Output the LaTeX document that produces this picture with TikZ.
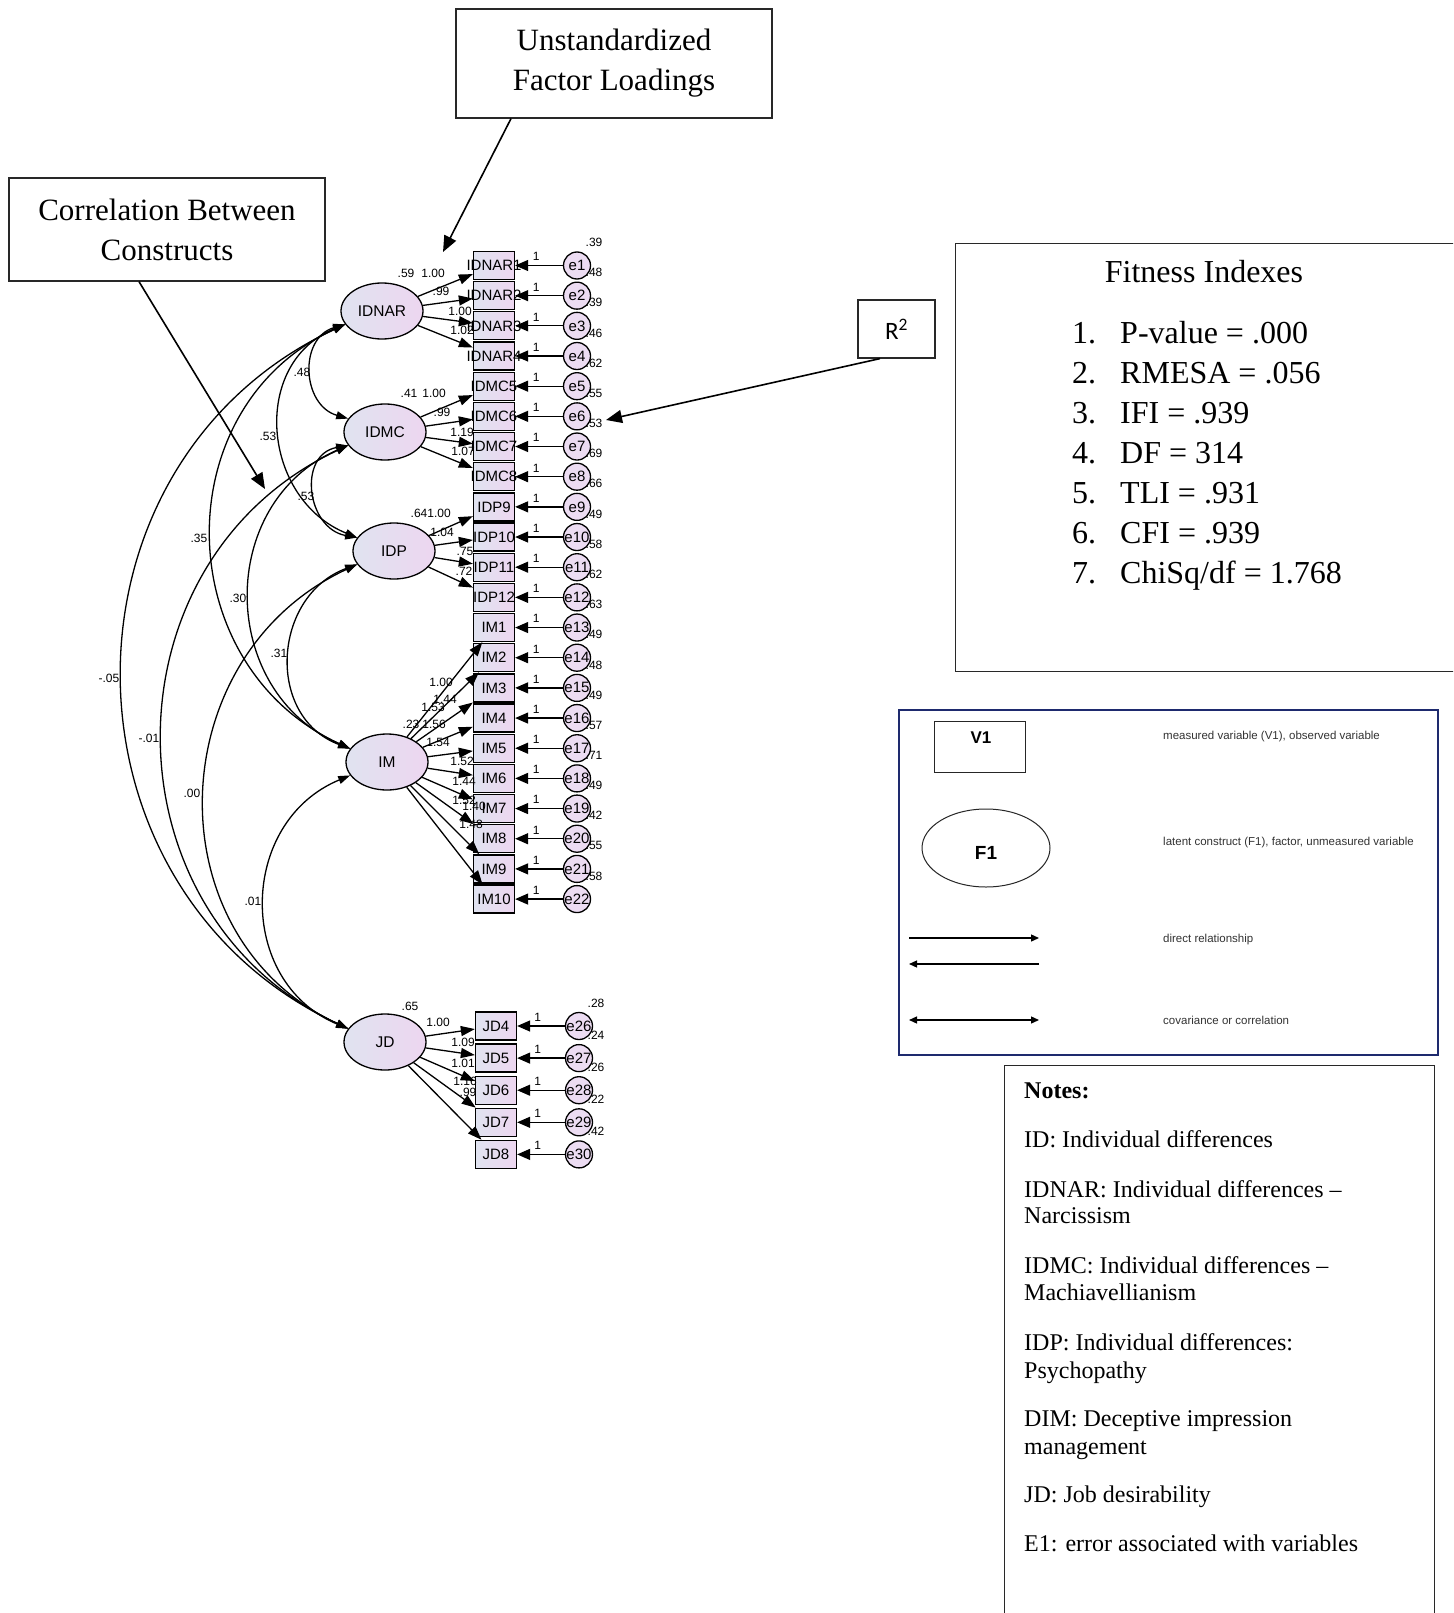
\documentclass[tikz,border=0pt]{standalone}
\usepackage{fontspec}
\setmainfont{Liberation Serif}
\newfontfamily\arial{Liberation Sans}
\newfontfamily\calibri{Carlito}
\usetikzlibrary{arrows.meta,shapes.geometric,calc}
\definecolor{latL}{RGB}{224,227,240}
\definecolor{latR}{RGB}{237,214,240}
\definecolor{errfill}{RGB}{236,220,242}
\definecolor{navy}{RGB}{30,42,110}
\definecolor{boxline}{RGB}{40,40,40}
\begin{document}
\begin{tikzpicture}[x=1pt,y=-1pt,
  latent/.style={ellipse, draw=black, line width=1.3pt, minimum width=82pt, minimum height=56pt, inner sep=0pt, left color=latL, right color=latR, font=\arial\fontsize{15.5}{15.5}\selectfont},
  obs/.style={rectangle, draw=black, line width=1.3pt, minimum width=41pt, minimum height=28pt, inner sep=0pt, left color=latL, right color=latR, font=\arial\fontsize{15}{15}\selectfont},
  err/.style={circle, draw=black, line width=1.3pt, minimum size=27pt, inner sep=0pt, fill=errfill, font=\arial\fontsize{15}{15}\selectfont},
  num/.style={inner sep=0pt, font=\arial\fontsize{12}{12}\selectfont},
  load/.style={line width=1.3pt, -{Triangle[length=14pt,width=10pt]}},
  errarr/.style={line width=1.3pt, -{Triangle[length=13pt,width=11pt]}},
  cov/.style={line width=1.3pt, {Triangle[length=12pt,width=8pt]}-{Triangle[length=12pt,width=8pt]}},
  callout/.style={draw=boxline, line width=1.2pt, fill=white, align=center, inner sep=0pt, font=\fontsize{31}{40}\selectfont},
  callarr/.style={line width=1.6pt, -{Triangle[length=16pt,width=13pt]}},
  legarr/.style={line width=1.3pt},
  legtext/.style={inner sep=0pt, anchor=west, font=\arial\fontsize{11.5}{12}\selectfont, text=black!80},
  notetext/.style={inner sep=0pt, anchor=base west, font=\fontsize{24}{27}\selectfont},
  fittext/.style={inner sep=0pt, anchor=base west, font=\fontsize{32}{40}\selectfont}
]
\clip (0,0) rectangle (1453,1613);
\fill[white] (0,0) rectangle (1453,1613);

% ---------- latent variables ----------
\node[latent] (IDNAR) at (382,311) {IDNAR};
\node[latent] (IDMC) at (385,432) {IDMC};
\node[latent] (IDP) at (394,551) {IDP};
\node[latent] (IM) at (387,762) {IM};
\node[latent] (JD) at (385,1042) {JD};

% ---------- observed variables with errors ----------
\foreach \i/\t in {1/IDNAR1, 2/IDNAR2, 3/IDNAR3, 4/IDNAR4, 5/IDMC5, 6/IDMC6, 7/IDMC7, 8/IDMC8, 9/IDP9, 10/IDP10, 11/IDP11, 12/IDP12, 13/IM1, 14/IM2, 15/IM3, 16/IM4, 17/IM5, 18/IM6, 19/IM7, 20/IM8, 21/IM9, 22/IM10}{
  \pgfmathsetmacro\yy{265.5+30.17*(\i-1)}
  \node[obs] (o\i) at (494,\yy) {\makebox[0pt]{\t}};
  \node[err] (e\i) at (577,\yy) {\makebox[0pt]{e\i}};
}
\foreach \k/\t/\e in {1/JD4/26, 2/JD5/27, 3/JD6/28, 4/JD7/29, 5/JD8/30}{
  \pgfmathsetmacro\yy{1026+32.1*(\k-1)}
  \node[obs] (j\k) at (496,\yy) {\makebox[0pt]{\t}};
  \node[err] (f\k) at (579,\yy) {\makebox[0pt]{e\e}};
}

% ---------- loadings ----------
\foreach \i in {1,...,4} \draw[load] (IDNAR) -- (o\i);
\foreach \i in {5,...,8} \draw[load] (IDMC) -- (o\i);
\foreach \i in {9,...,12} \draw[load] (IDP) -- (o\i);
\foreach \i in {13,...,22} \draw[load] (IM) -- (o\i);
\foreach \k in {1,...,5} \draw[load] (JD) -- (j\k);

% ---------- error arrows ----------
\foreach \i/\r in {1/.39, 2/.48, 3/.39, 4/.46, 5/.62, 6/.55, 7/.53, 8/.69, 9/.66, 10/.49, 11/.58, 12/.62, 13/.63, 14/.49, 15/.48, 16/.49, 17/.57, 18/.71, 19/.49, 20/.42, 21/.55, 22/.58}{
  \draw[errarr] (e\i) -- (o\i) node[num, pos=0.56, above=4pt] (one\i) {1};
  \node[num] (r\i) at ($(e\i)+(17,-23)$) {\r};
}
\foreach \k/\r in {1/.28, 2/.24, 3/.26, 4/.22, 5/.42}{
  \draw[errarr] (f\k) -- (j\k) node[num, pos=0.57, above=4pt] (onej\k) {1};
  \node[num] (rj\k) at ($(f\k)+(17,-23)$) {\r};
}

% ---------- loading labels ----------
\node[num] (vIDNAR) at (406,273) {.59};
\node[num] (l1) at (433,273) {1.00};
\node[num] (l2) at (441,291) {.99};
\node[num] (l3) at (460,311) {1.00};
\node[num] (l4) at (462,330) {1.02};
\node[num] (vIDMC) at (409,393) {.41};
\node[num] (l5) at (434,393) {1.00};
\node[num] (l6) at (442,412) {.99};
\node[num] (l7) at (462,432) {1.19};
\node[num] (l8) at (463,451) {1.07};
\node[num] (vIDP) at (419,513) {.64};
\node[num] (l9) at (439,513) {1.00};
\node[num] (l10) at (442,532) {1.04};
\node[num] (l11) at (465,551) {.75};
\node[num] (l12) at (464,571) {.72};
\node[num] (l13) at (441,682) {1.00};
\node[num] (l14) at (445,699) {1.44};
\node[num] (l15) at (433,707) {1.53};
\node[num] (vIM) at (411,724) {.23};
\node[num] (l16) at (434,724) {1.56};
\node[num] (l17) at (438,742) {1.54};
\node[num] (l18) at (462,761) {1.52};
\node[num] (l19) at (464,781) {1.44};
\node[num] (l20) at (464,800) {1.52};
\node[num] (l21) at (474,806) {1.40};
\node[num] (l22) at (471,824) {1.48};
\node[num] (vJD) at (410,1006) {.65};
\node[num] (m1) at (438,1022) {1.00};
\node[num] (m2) at (463,1042) {1.09};
\node[num] (m3) at (463,1063) {1.01};
\node[num] (m4) at (465,1081) {1.16};
\node[num] (m5) at (468,1092) {.99};

% ---------- covariances ----------
\draw[cov] (IDNAR.200) .. controls (298.6,337.9) and (301.6,405.1) .. (IDMC.160);
\draw[cov] (IDNAR.200) .. controls (249.9,363) and (261.9,499) .. (IDP.160);
\draw[cov] (IDNAR.200) .. controls (164.2,407.2) and (169.2,665.8) .. (IM.160);
\draw[cov] (IDNAR.200) .. controls (46.7,463.7) and (49.7,889.3) .. (JD.160);
\draw[cov] (IDMC.200) .. controls (297.4,454.6) and (306.4,528.4) .. (IDP.160);
\draw[cov] (IDMC.200) .. controls (215.7,502.5) and (217.7,691.5) .. (IM.160);
\draw[cov] (IDMC.200) .. controls (101.1,560.7) and (101.1,913.3) .. (JD.160);
\draw[cov] (IDP.200) .. controls (272.2,595.8) and (265.2,717.2) .. (IM.160);
\draw[cov] (IDP.200) .. controls (160.3,655.8) and (151.3,937.2) .. (JD.160);
\draw[cov] (IM.200) .. controls (237.9,821.9) and (235.9,982.1) .. (JD.160);

\node[num] (c1) at (302,372) {.48};
\node[num] (c2) at (268,436) {.53};
\node[num] (c3) at (306,496) {.53};
\node[num] (c4) at (199,538) {.35};
\node[num] (c5) at (238,598) {.30};
\node[num] (c6) at (279,653) {.31};
\node[num] (c7) at (109,678) {-.05};
\node[num] (c8) at (149,738) {-.01};
\node[num] (c9) at (192,793) {.00};
\node[num] (c10) at (253,901) {.01};

% ---------- callouts ----------
\node[callout, minimum width=316pt, minimum height=109pt] (ufl) at (614,63.5) {Unstandardized\\Factor Loadings};
\coordinate (uflto) at (443,252);
\draw[callarr] ([xshift=-103pt]ufl.south) -- (uflto);

\node[callout, minimum width=316pt, minimum height=103pt] (cbc) at (167,229.5) {Correlation Between\\Constructs};
\coordinate (cbcto) at (265,489);
\draw[callarr] ([xshift=-28pt]cbc.south) -- (cbcto);

\node[callout, minimum width=77pt, minimum height=58pt, font=\calibri\fontsize{25}{25}\selectfont] (rsq) at (896.5,329) {R\textsuperscript{2}};
\coordinate (rsqto) at (606,420);
\draw[callarr] ([xshift=-16.5pt]rsq.south) -- (rsqto);

% ---------- fitness box ----------
\node[draw=boxline, line width=1.2pt, minimum width=510pt, minimum height=428pt, anchor=north west, inner sep=0pt] (fit) at (955,243) {};
\node[inner sep=0pt, anchor=base, font=\fontsize{32}{40}\selectfont] (fittitle) at (1204,283) {Fitness Indexes};
\foreach \k/\n/\t in {0/1./{P-value = .000}, 1/2./{RMESA = .056}, 2/3./{IFI = .939}, 3/4./{DF = 314}, 4/5./{TLI = .931}, 5/6./{CFI = .939}, 6/7./{ChiSq/df = 1.768}}{
  \node[fittext] (fn\k) at (1072,343+40*\k) {\n};
  \node[fittext] (ft\k) at (1120,343+40*\k) {\t};
}

% ---------- legend ----------
\node[draw=navy, line width=2pt, minimum width=539pt, minimum height=345pt, anchor=north west, inner sep=0pt] (leg) at (898,709) {};
\node[draw=black!85, line width=1pt, minimum width=91pt, minimum height=51pt, inner sep=0pt] (legV) at (980,746.5) {};
\node[inner sep=0pt, font=\arial\bfseries\fontsize{17}{17}\selectfont] (legVt) at (981,738) {V1};
\node[ellipse, draw=black!85, line width=1pt, minimum width=128pt, minimum height=78pt, inner sep=0pt] (legF) at (986,848) {};
\node[inner sep=0pt, font=\arial\bfseries\fontsize{19}{19}\selectfont] (legFt) at (986,853) {F1};
\coordinate (la1) at (909,938);
\coordinate (la2) at (1039,938);
\coordinate (lb1) at (1039,964);
\coordinate (lb2) at (909,964);
\coordinate (lc1) at (909,1020);
\coordinate (lc2) at (1039,1020);
\draw[legarr, -{Triangle[length=8pt,width=7pt]}] (la1) -- (la2);
\draw[legarr, -{Triangle[length=8pt,width=7pt]}] (lb1) -- (lb2);
\draw[legarr, {Triangle[length=8pt,width=7pt]}-{Triangle[length=8pt,width=7pt]}] (lc1) -- (lc2);
\node[legtext] (lt1) at (1163,737) {measured variable (V1), observed variable};
\node[legtext] (lt2) at (1163,843) {latent construct (F1), factor, unmeasured variable};
\node[legtext] (lt3) at (1163,940) {direct relationship};
\node[legtext] (lt4) at (1163,1020) {covariance or correlation};

% ---------- notes ----------
\node[draw=boxline, line width=1.2pt, minimum width=430pt, minimum height=570pt, anchor=north west, inner sep=0pt] (notes) at (1004,1065) {};
\node[notetext, font=\bfseries\fontsize{24}{27}\selectfont] (n0) at (1024,1098) {Notes:};
\node[notetext] (n1) at (1024,1147) {ID: Individual differences};
\node[notetext] (n2) at (1024,1197) {IDNAR: Individual differences –};
\node[notetext] (n2b) at (1024,1223) {Narcissism};
\node[notetext] (n3) at (1024,1273) {IDMC: Individual differences –};
\node[notetext] (n3b) at (1024,1300) {Machiavellianism};
\node[notetext] (n4) at (1024,1350) {IDP: Individual differences:};
\node[notetext] (n4b) at (1024,1378) {Psychopathy};
\node[notetext] (n5) at (1024,1426) {DIM: Deceptive impression};
\node[notetext] (n5b) at (1024,1454) {management};
\node[notetext] (n6) at (1024,1502) {JD: Job desirability};
\node[notetext] (n7) at (1024,1551) {E1: error associated with variables};
\end{tikzpicture}
\end{document}
